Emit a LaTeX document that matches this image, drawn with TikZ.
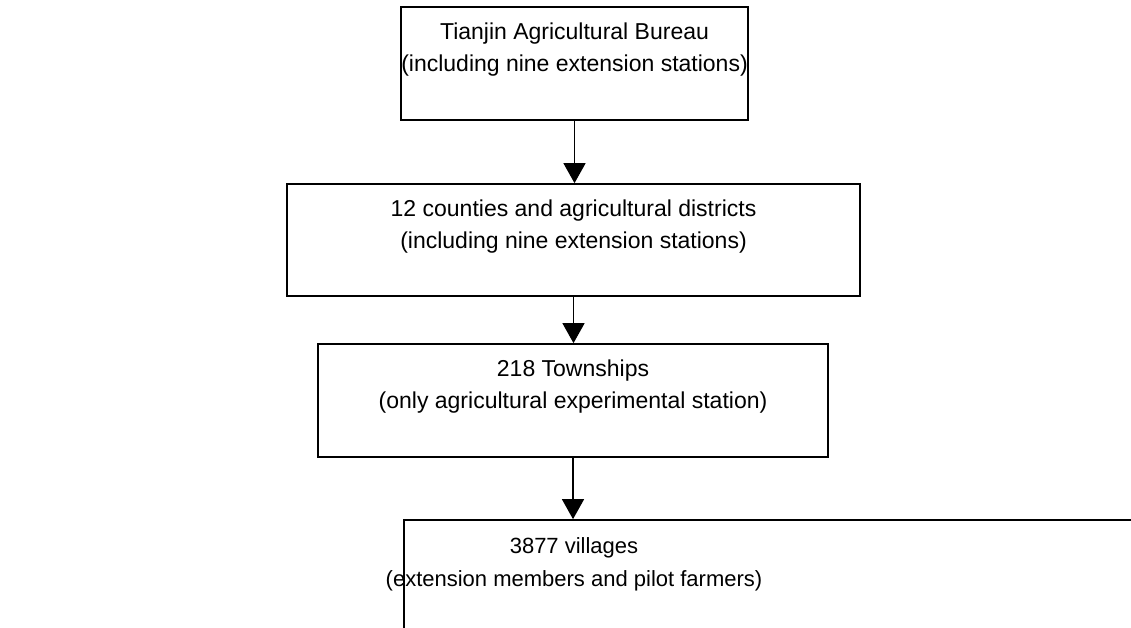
\documentclass[tikz,border=0pt]{standalone}
\usepackage{fontspec}
\setmainfont{Liberation Sans}
\usetikzlibrary{arrows.meta}
\begin{document}
\begin{tikzpicture}[x=1pt,y=-1pt,
  orgbox/.style={draw=black, line width=1.7pt, rectangle, inner sep=0pt, align=center,
    font=\fontsize{23}{32}\selectfont},
  orgtext/.style={align=center, inner sep=0pt, font=\fontsize{22}{33}\selectfont},
  flowarrow/.style={draw=black, line width=1.4pt, -{Triangle[width=22pt,length=20pt]}}]
\useasboundingbox (0,0) rectangle (1131,628);
\clip (0,0) rectangle (1131,628);
\fill[white] (0,0) rectangle (1131,628);
\node[orgbox, minimum width=347pt, minimum height=113pt] (b1) at (574.5,63.5)
  {Tianjin Agricultural Bureau\\(including nine extension stations)\\[-9pt] \strut};
\node[orgbox, minimum width=573pt, minimum height=112pt] (b2) at (573.5,240)
  {12 counties and agricultural districts\\(including nine extension stations)\\[-9pt] \strut};
\node[orgbox, minimum width=510pt, minimum height=113pt] (b3) at (573,400.5)
  {218 Townships\\(only agricultural experimental station)\\[-9pt] \strut};
\node[orgbox, minimum width=760pt, minimum height=120pt] (b4) at (784,580) {};
\node[orgtext] (t4) at (574,578.5)
  {3877 villages\\(extension members and pilot farmers)\\[-9pt] \strut};
\draw[flowarrow] (b1.south) -- (b1.south |- b2.north);
\draw[flowarrow] (b2.south) -- (b2.south |- b3.north);
\draw[flowarrow] (b3.south) -- (b3.south |- b4.north);
\end{tikzpicture}
\end{document}
